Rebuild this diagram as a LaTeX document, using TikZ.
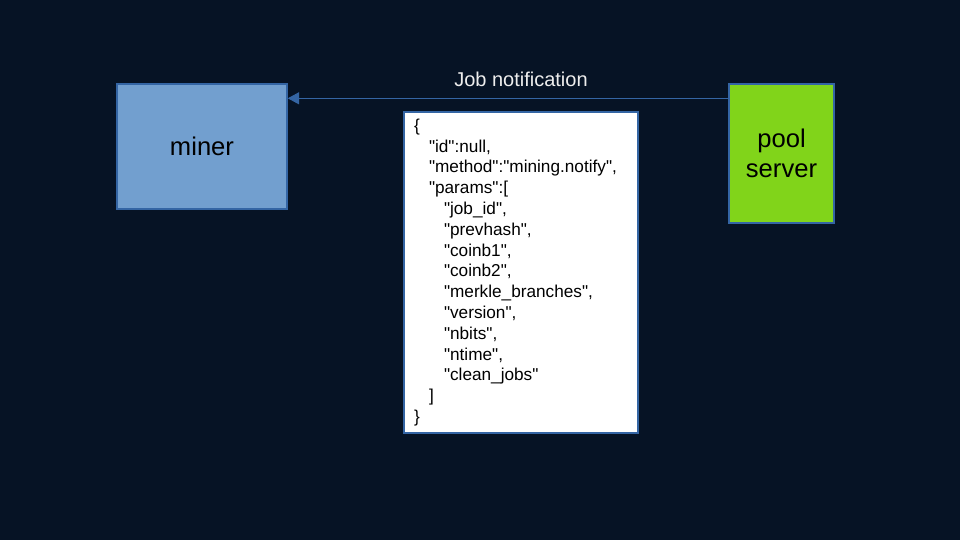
\documentclass[tikz,border=0pt]{standalone}
\usepackage{fontspec}
\setmainfont{Liberation Sans}[Ligatures=TeXOff]
\usetikzlibrary{arrows.meta}
\definecolor{bg}{HTML}{061325}
\definecolor{edge}{HTML}{3465A4}
\definecolor{minerfill}{HTML}{729FCF}
\definecolor{poolfill}{HTML}{81D41A}
\definecolor{labeltext}{HTML}{EEEEEE}
\tikzset{
  entity/.style={draw=edge, line width=1.1pt, align=center, text=black,
    font=\fontsize{19.2pt}{22.5pt}\selectfont, inner sep=0pt},
  msgbox/.style={draw=edge, line width=1.1pt, fill=white, text=black,
    align=left, inner xsep=7.5pt, inner ysep=0pt,
    font=\fontsize{12.9pt}{15.6pt}\selectfont},
  conn/.style={draw=edge, line width=0.8pt, -{Triangle[length=8.5pt,width=9pt]}},
  lbl/.style={text=labeltext, font=\fontsize{15pt}{18pt}\selectfont, inner sep=0pt}
}
\newcommand{\indA}{\hspace*{11.25pt}}
\newcommand{\indB}{\hspace*{22.5pt}}
\begin{document}
\begin{tikzpicture}[x=0.75pt,y=-0.75pt]
\fill[bg] (0,0) rectangle (960,540);
\useasboundingbox (0,0) rectangle (960,540);
\node[entity, fill=minerfill, minimum width=127.5pt, minimum height=93.75pt] (miner) at (202,146.5) {miner};
\node[entity, fill=poolfill, minimum width=78.75pt, minimum height=104.25pt] (pool) at (781.5,153.5) {pool\\server};
\node[msgbox, text width=160.5pt, minimum height=240.75pt] (msg) at (521,272.5) {%
\{\\
\indA"id":null,\\
\indA"method":"mining.notify",\\
\indA"params":[\\
\indB"job\_id",\\
\indB"prevhash",\\
\indB"coinb1",\\
\indB"coinb2",\\
\indB"merkle\_branches",\\
\indB"version",\\
\indB"nbits",\\
\indB"ntime",\\
\indB"clean\_jobs"\\
\indA]\\
\}};
\coordinate (ay) at (0,98.3);
\draw[conn] (pool.west |- ay) -- (miner.east |- ay);
\node[lbl] (joblbl) at (521,79) {Job notification};
\end{tikzpicture}
\end{document}
